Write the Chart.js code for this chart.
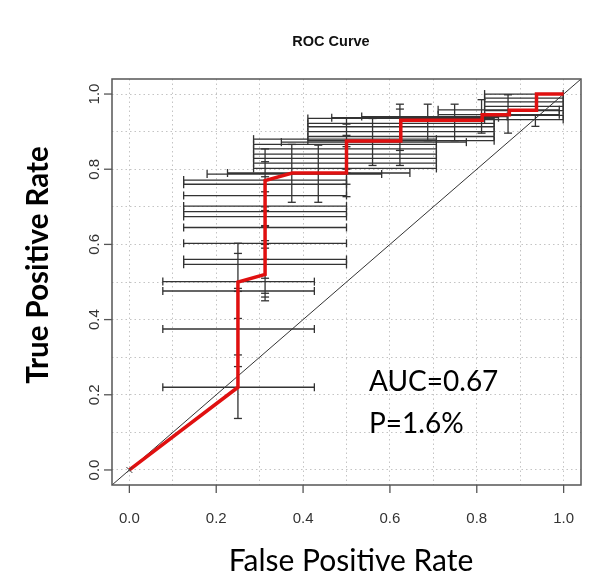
<!DOCTYPE html>
<html>
<head>
<meta charset="utf-8">
<script src="https://cdn.jsdelivr.net/npm/chart.js@4"></script>
<style>
  html, body { margin: 0; padding: 0; background: #fff; }
  #wrap { width: 600px; height: 587px; }
</style>
</head>
<body>
<div id="wrap"><canvas id="rocChart"></canvas></div>
<script>
// averaged ROC curve (red step line)
const rocFpr = [0, 0.25, 0.25, 0.3125, 0.3125, 0.375, 0.5, 0.5, 0.625, 0.625, 0.8125, 0.8125, 0.875, 0.875, 0.9375, 0.9375, 1];
const rocTpr = [0, 0.22, 0.50, 0.52, 0.77, 0.79, 0.79, 0.875, 0.875, 0.93, 0.93, 0.945, 0.945, 0.957, 0.957, 1, 1];

// horizontal error bars: y, left end, right end
const hBarY  = [0.22, 0.375, 0.476, 0.501,
                0.547, 0.560, 0.603, 0.645, 0.674, 0.687, 0.702, 0.730, 0.760, 0.771,
                0.787, 0.790,
                0.802, 0.816, 0.829, 0.840, 0.854, 0.866, 0.880,
                0.872,
                0.876, 0.887, 0.900, 0.913, 0.922, 0.935,
                0.937, 0.940, 0.945, 0.958,
                0.932, 0.943, 0.956, 0.967, 0.979, 0.989, 1.0];
const hBarLo = [0.077, 0.077, 0.077, 0.077,
                0.125, 0.125, 0.125, 0.125, 0.125, 0.125, 0.125, 0.125, 0.125, 0.125,
                0.179, 0.226,
                0.286, 0.286, 0.286, 0.286, 0.286, 0.286, 0.286,
                0.35,
                0.411, 0.411, 0.411, 0.411, 0.411, 0.411,
                0.466, 0.535, 0.711, 0.711,
                0.818, 0.818, 0.818, 0.818, 0.818, 0.818, 0.818];
const hBarHi = [0.426, 0.426, 0.426, 0.426,
                0.5, 0.5, 0.5, 0.5, 0.5, 0.5, 0.5, 0.5, 0.5, 0.5,
                0.581, 0.646,
                0.707, 0.707, 0.707, 0.707, 0.707, 0.707, 0.707,
                0.776,
                0.84, 0.84, 0.84, 0.84, 0.84, 0.84,
                0.85, 0.87, 0.99, 0.99,
                0.999, 0.999, 0.999, 0.999, 0.999, 0.999, 0.999];

// vertical error bars: x, bottom end, top end
const vBarX  = [0.25, 0.25, 0.25, 0.25,
                0.3125, 0.3125, 0.3125, 0.3125, 0.3125, 0.3125, 0.3125, 0.3125,
                0.374, 0.435,
                0.5, 0.5, 0.5, 0.5,
                0.56, 0.623, 0.623, 0.687, 0.749, 0.811, 0.872, 0.935];
const vBarLo = [0.137, 0.275, 0.403, 0.483,
                0.45, 0.46, 0.47, 0.51, 0.56, 0.60, 0.647, 0.70,
                0.712, 0.712,
                0.727, 0.76, 0.79, 0.80,
                0.81, 0.81, 0.85, 0.876, 0.876, 0.896, 0.896, 0.914];
const vBarHi = [0.306, 0.475, 0.576, 0.603,
                0.59, 0.61, 0.65, 0.69, 0.74, 0.78, 0.82, 0.854,
                0.866, 0.864,
                0.86, 0.89, 0.92, 0.936,
                0.935, 0.973, 0.96, 0.973, 0.973, 0.985, 0.998, 0.945];

const axisMin = -0.04;
const axisMax = 1.04;
const gridValues = [0, 0.1, 0.2, 0.3, 0.4, 0.5, 0.6, 0.7, 0.8, 0.9, 1.0];
const tickValues = [0, 0.2, 0.4, 0.6, 0.8, 1.0];
const tickLabels = ['0.0', '0.2', '0.4', '0.6', '0.8', '1.0'];
const chanceLine = [axisMin, axisMax];
const statLines = ['AUC=0.67', 'P=1.6%'];

// build the bar segments, a null point breaks the line between bars
const hBarPoints = [];
hBarY.forEach((y, i) => {
    hBarPoints.push({ x: hBarLo[i], y: y }, { x: hBarHi[i], y: y }, { x: hBarHi[i], y: null });
});
const vBarPoints = [];
vBarX.forEach((x, i) => {
    vBarPoints.push({ x: x, y: vBarLo[i] }, { x: x, y: vBarHi[i] }, { x: x, y: null });
});

const tickFont = '15px "Liberation Sans", Arial, sans-serif';
const labelFont = '"Lato", "Open Sans", sans-serif';

const rPlotDecor = {
    id: 'rPlotDecor',
    afterDraw(chart) {
        const { ctx, chartArea: a, scales: { x, y } } = chart;
        ctx.save();

        // plot box
        ctx.strokeStyle = '#555';
        ctx.lineWidth = 1.5;
        ctx.strokeRect(a.left, a.top, a.right - a.left, a.bottom - a.top);

        // ticks and tick labels
        ctx.lineWidth = 1.3;
        ctx.font = tickFont;
        ctx.fillStyle = '#333';
        ctx.textAlign = 'center';
        ctx.textBaseline = 'middle';
        tickValues.forEach((v, i) => {
            const px = x.getPixelForValue(v);
            ctx.beginPath();
            ctx.moveTo(px, a.bottom);
            ctx.lineTo(px, a.bottom + 8);
            ctx.stroke();
            ctx.fillText(tickLabels[i], px, a.bottom + 34);

            const py = y.getPixelForValue(v);
            ctx.beginPath();
            ctx.moveTo(a.left, py);
            ctx.lineTo(a.left - 8, py);
            ctx.stroke();
            ctx.save();
            ctx.translate(a.left - 17, py);
            ctx.rotate(-Math.PI / 2);
            ctx.fillText(tickLabels[i], 0, 0);
            ctx.restore();
        });

        // small cross at the origin
        const ox = x.getPixelForValue(0), oy = y.getPixelForValue(0);
        ctx.strokeStyle = '#444';
        ctx.lineWidth = 1;
        ctx.beginPath();
        ctx.moveTo(ox - 3, oy - 3); ctx.lineTo(ox + 3, oy + 3);
        ctx.moveTo(ox - 3, oy + 3); ctx.lineTo(ox + 3, oy - 3);
        ctx.stroke();

        // main title
        ctx.fillStyle = '#111';
        ctx.font = 'bold 14.5px "Liberation Sans", Arial, sans-serif';
        ctx.fillText('ROC Curve', 331, 42);

        // axis titles
        ctx.fillStyle = '#000';
        ctx.font = '30px ' + labelFont;
        ctx.fillText('False Positive Rate', 351, 561);
        ctx.save();
        ctx.translate(38, 265);
        ctx.rotate(-Math.PI / 2);
        ctx.font = 'bold 29.5px ' + labelFont;
        ctx.fillText('True Positive Rate', 0, 0);
        ctx.restore();

        // AUC annotation
        ctx.textAlign = 'left';
        ctx.font = '28px ' + labelFont;
        ctx.fillText(statLines[0], 369, 382);
        ctx.fillText(statLines[1], 369, 424);

        ctx.restore();
    }
};

const gridAxis = {
    type: 'linear',
    min: axisMin,
    max: axisMax,
    afterBuildTicks: (scale) => { scale.ticks = gridValues.map(v => ({ value: v })); },
    ticks: { display: false },
    grid: { color: '#c4c4c4', lineWidth: 1, drawTicks: false },
    border: { display: false, dash: [1.5, 3] }
};

new Chart(document.getElementById('rocChart'), {
    type: 'line',
    data: {
        datasets: [
            {
                label: 'ROC',
                data: rocFpr.map((f, i) => ({ x: f, y: rocTpr[i] })),
                borderColor: '#e01010',
                borderWidth: 3.5,
                pointRadius: 0,
                tension: 0,
                order: 0
            },
            {
                label: 'chance',
                data: chanceLine.map(v => ({ x: v, y: v })),
                borderColor: '#333',
                borderWidth: 1,
                pointRadius: 0,
                order: 1
            },
            {
                label: 'vertical spread',
                data: vBarPoints,
                borderColor: '#333',
                borderWidth: 1.3,
                pointStyle: 'line',
                pointRotation: 0,
                pointRadius: 4,
                pointBorderWidth: 1.3,
                pointBorderColor: '#333',
                spanGaps: false,
                order: 2
            },
            {
                label: 'horizontal spread',
                data: hBarPoints,
                borderColor: '#333',
                borderWidth: 1.3,
                pointStyle: 'line',
                pointRotation: 90,
                pointRadius: 4,
                pointBorderWidth: 1.3,
                pointBorderColor: '#333',
                spanGaps: false,
                order: 3
            }
        ]
    },
    options: {
        responsive: true,
        maintainAspectRatio: false,
        animation: false,
        events: [],
        layout: { padding: { top: 79, right: 19, left: 0, bottom: 0 } },
        plugins: {
            legend: { display: false },
            tooltip: { enabled: false }
        },
        scales: {
            x: Object.assign({}, gridAxis, { afterFit: (s) => { s.height = 102; } }),
            y: Object.assign({}, gridAxis, { afterFit: (s) => { s.width = 112; } })
        }
    },
    plugins: [rPlotDecor]
});
</script>
</body>
</html>
